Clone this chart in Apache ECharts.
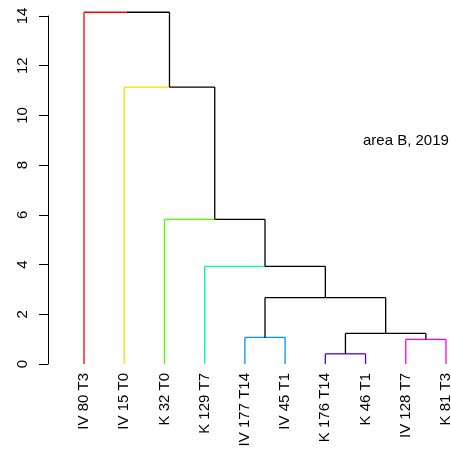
<!DOCTYPE html>
<html>
<head>
<meta charset="utf-8">
<script src="https://cdn.jsdelivr.net/npm/echarts@6/dist/echarts.min.js"></script>
<style>html,body{margin:0;padding:0;background:#fff}#c{width:451px;height:450px}</style>
</head>
<body>
<div id="c"></div>
<script>
// Leaf labels in plotted order
var leafLabels = ['IV 80 T3', 'IV 15 T0', 'K 32 T0', 'K 129 T7', 'IV 177 T14', 'IV 45 T1', 'K 176 T14', 'K 46 T1', 'IV 128 T7', 'K 81 T3'];
// Cluster colour of each leaf (R rainbow(7))
var leafColors = ['#FF0000', '#FFDB00', '#49FF00', '#00FF92', '#0092FF', '#0092FF', '#4900FF', '#4900FF', '#FF00DB', '#FF00DB'];
// hclust-style merges: negative = leaf (1-based), positive = earlier merge (1-based)
var mergeLeft  = [-7, -9, -5, 1, 3, -4, -3, -2, -1];
var mergeRight = [-8, -10, -6, 2, 4, 5, 6, 7, 8];
var mergeHeights = [0.41, 0.99, 1.07, 1.23, 2.67, 3.93, 5.82, 11.14, 14.15];
var yTicks = [0, 2, 4, 6, 8, 10, 12, 14];
var annotation = 'area B, 2019';

// Build segments
var nodeX = [], nodeH = [], nodeC = [];
function info(ref) {
  if (ref < 0) { var i = -ref - 1; return {x: i, h: 0, c: leafColors[i], leaf: true}; }
  var k = ref - 1; return {x: nodeX[k], h: nodeH[k], c: nodeC[k], leaf: false};
}
var segs = [];
var segColors = [];
for (var k = 0; k < mergeHeights.length; k++) {
  var a = info(mergeLeft[k]), b = info(mergeRight[k]);
  var h = mergeHeights[k];
  var x = (a.x + b.x) / 2;
  nodeX[k] = x; nodeH[k] = h;
  nodeC[k] = (a.c && a.c === b.c) ? a.c : null;
  [a, b].forEach(function (ch) {
    var col = ch.leaf ? ch.c : (nodeC[k] || '#000000');
    segs.push([ch.x, ch.h, ch.x, h]); segColors.push(col);
    segs.push([ch.x, h, x, h]); segColors.push(col);
  });
}

var chart = echarts.init(document.getElementById('c'), null, {renderer: 'canvas'});
var FONT = '"Liberation Sans", Arial, sans-serif';
chart.setOption({
  animation: false,
  backgroundColor: '#ffffff',
  grid: {left: 84, right: 5, top: 16, bottom: 86, containLabel: false, outerBoundsMode: 'none'},
  xAxis: {
    type: 'value', min: 0, max: leafLabels.length - 1, interval: 1,
    axisLine: {show: false, onZero: false}, axisTick: {show: false}, splitLine: {show: false},
    axisLabel: {
      rotate: 90, margin: 9, color: '#000', fontSize: 15, fontFamily: FONT,
      hideOverlap: false,
      formatter: function (v) { return leafLabels[Math.round(v)] || ''; }
    }
  },
  yAxis: {
    type: 'value', min: yTicks[0], max: yTicks[yTicks.length - 1], interval: 2,
    offset: 36,
    axisLine: {show: true, onZero: false, lineStyle: {color: '#000', width: 1}},
    axisTick: {show: true, length: 9, lineStyle: {color: '#000'}},
    splitLine: {show: false},
    axisLabel: {rotate: 90, margin: 18, color: '#000', fontSize: 15, fontFamily: FONT}
  },
  graphic: [{
    type: 'text', left: 363, top: 133,
    style: {text: annotation, fill: '#000', font: '15px ' + FONT}
  }],
  series: [{
    type: 'custom',
    clip: false,
    data: segs,
    renderItem: function (params, api) {
      var p1 = api.coord([api.value(0), api.value(1)]);
      var p2 = api.coord([api.value(2), api.value(3)]);
      return {
        type: 'line',
        shape: {x1: p1[0], y1: p1[1], x2: p2[0], y2: p2[1]},
        style: {stroke: segColors[params.dataIndex], lineWidth: 1.3}
      };
    }
  }]
});
</script>
</body>
</html>
